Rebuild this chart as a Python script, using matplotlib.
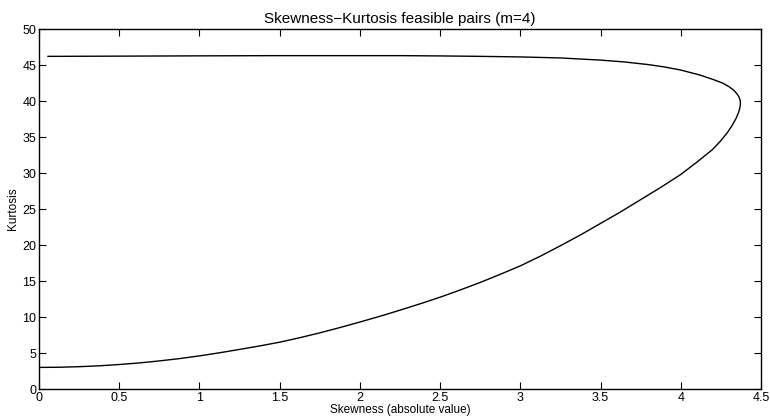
import numpy as np
import matplotlib
matplotlib.use("Agg")
import matplotlib.pyplot as plt

# values (lower branch goes out, upper branch comes back)
lower_skew = [0.0, 0.125, 0.25, 0.375, 0.5, 0.625, 0.75, 0.875, 1.0, 1.125, 1.25,
              1.375, 1.5, 1.625, 1.75, 1.875, 2.0, 2.125, 2.25, 2.375, 2.5, 2.625,
              2.75, 2.875, 3.0, 3.125, 3.25, 3.375, 3.5, 3.625, 3.75, 3.875, 4.0,
              4.1, 4.2, 4.25, 4.29, 4.32, 4.345, 4.36, 4.368, 4.372]
lower_kurt = [3.0, 3.02, 3.1, 3.22, 3.4, 3.62, 3.9, 4.22, 4.6, 5.03, 5.5,
              5.98, 6.5, 7.12, 7.8, 8.53, 9.3, 10.1, 10.95, 11.83, 12.75, 13.75,
              14.8, 15.93, 17.1, 18.45, 19.9, 21.4, 23.0, 24.6, 26.3, 28.0, 29.8,
              31.5, 33.3, 34.5, 35.6, 36.6, 37.6, 38.4, 39.0, 39.6]
upper_skew = [4.37, 4.362, 4.35, 4.33, 4.30, 4.26, 4.2, 4.12, 4.0, 3.9, 3.8, 3.65,
              3.5, 3.25, 3.0, 2.75, 2.5, 2.25, 2.0, 1.5, 1.0, 0.5, 0.056]
upper_kurt = [40.1, 40.6, 41.0, 41.5, 42.0, 42.5, 43.0, 43.6, 44.3, 44.72, 45.05, 45.42,
              45.68, 45.98, 46.12, 46.2, 46.26, 46.3, 46.3, 46.3, 46.27, 46.23, 46.2]

x_ticks = [0, 0.5, 1, 1.5, 2, 2.5, 3, 3.5, 4, 4.5]
x_labels = ["0", "0.5", "1", "1.5", "2", "2.5", "3", "3.5", "4", "4.5"]
y_ticks = [0, 5, 10, 15, 20, 25, 30, 35, 40, 45, 50]

plt.rcParams['font.family'] = ['Liberation Sans', 'DejaVu Sans']

fig = plt.figure(figsize=(7.7, 4.18), dpi=100)
ax = fig.add_axes([39/770, 29/418, 722/770, 360/418])

skew = lower_skew + upper_skew
kurt = lower_kurt + upper_kurt
ax.plot(skew, kurt, color="black", linewidth=1.0)

ax.set_xlim(0, 4.5)
ax.set_ylim(0, 50)
ax.set_xticks(x_ticks)
ax.set_xticklabels(x_labels)
ax.set_yticks(y_ticks)
ax.tick_params(direction="in", top=True, right=True, length=5, width=0.8,
               labelsize=9, pad=2)
for s in ax.spines.values():
    s.set_linewidth(1.0)

ax.set_title("Skewness\u2212Kurtosis feasible pairs (m=4)", fontsize=11, pad=4)
ax.set_xlabel("Skewness (absolute value)", fontsize=8.5, labelpad=0)
ax.set_ylabel("Kurtosis", fontsize=8.5, labelpad=2)

fig.savefig("out.png", dpi=100)
